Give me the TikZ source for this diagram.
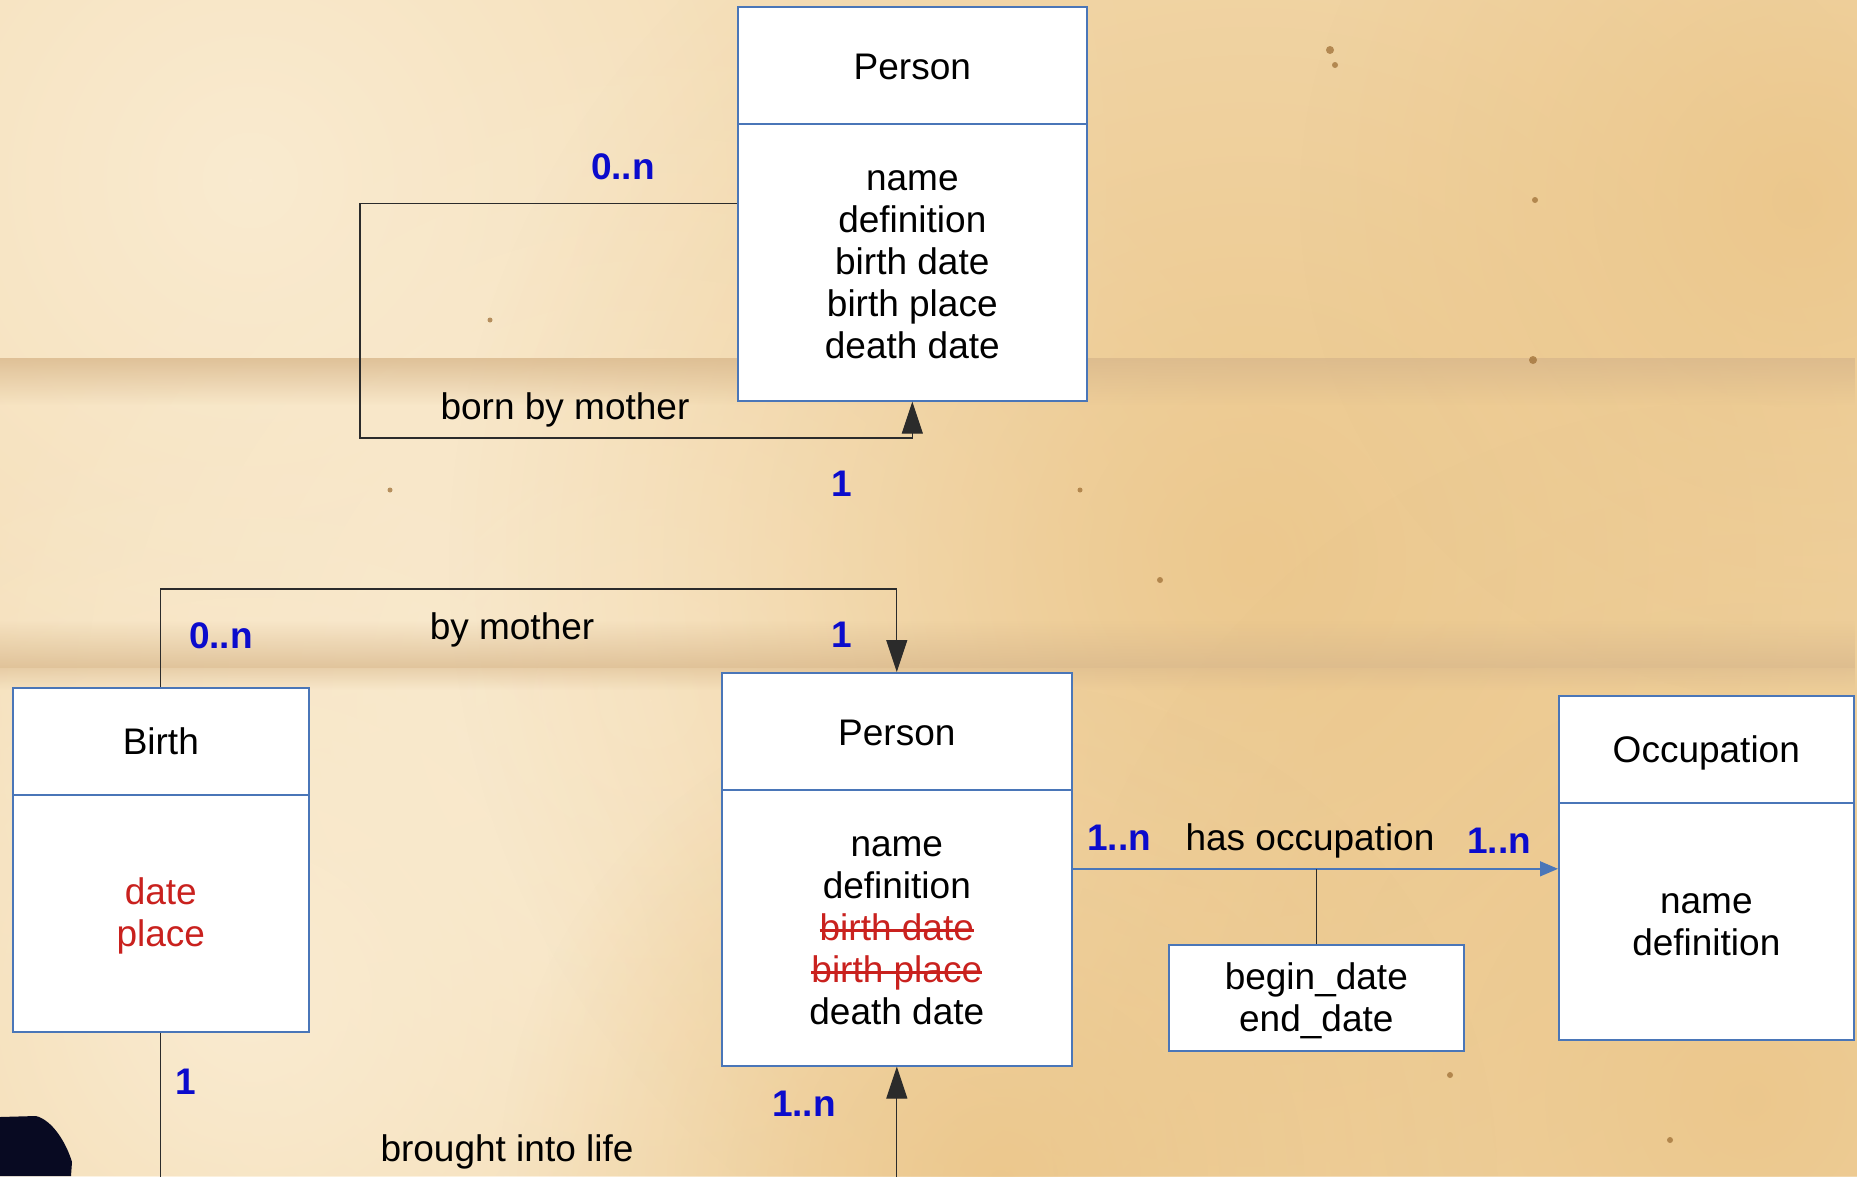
\documentclass[tikz,border=0pt]{standalone}
\usepackage{fontspec}
\setmainfont{Liberation Sans}
\usetikzlibrary{arrows.meta,calc,fadings}
\newsavebox\mystrikebox
\newcommand\mystrike[1]{\sbox\mystrikebox{#1}\rlap{\usebox\mystrikebox}\rule[0.24em]{\wd\mystrikebox}{2.4pt}}
\newcommand\lift[1]{\rule{0pt}{#1}}
\definecolor{paper}{HTML}{F2D8AB}
\definecolor{paperlight}{HTML}{FAEBD0}
\definecolor{paperorange}{HTML}{EBC588}
\definecolor{band}{HTML}{D9B88C}
\definecolor{boxblue}{HTML}{4A76B8}
\definecolor{lblblue}{HTML}{0B0BCC}
\definecolor{attrred}{HTML}{C9211E}
\definecolor{linegray}{HTML}{2B2B2B}
\definecolor{ink}{HTML}{080A22}
\definecolor{speck}{HTML}{9A6A30}
\tikzfading[name=softblob, inner color=transparent!0, outer color=transparent!100]
\tikzfading[name=bandfade, top color=transparent!0, bottom color=transparent!100]
\tikzfading[name=bandfadeup, top color=transparent!100, bottom color=transparent!0]
\begin{document}
\begin{tikzpicture}[x=1pt,y=-1pt,
  every node/.style={font=\fontsize{37}{42}\selectfont, inner sep=0pt},
  cls/.style={draw=boxblue, line width=1.6pt, fill=white, align=center, anchor=north west},
  mult/.style={text=lblblue, font=\fontsize{37}{42}\selectfont\bfseries},
  rel/.style={text=black},
  conn/.style={draw=linegray, line width=1.2pt},
  blk/.style={conn, -{Triangle[length=32pt,width=21pt]}},
  bconn/.style={draw=boxblue, line width=1.4pt, -{Triangle[length=18pt,width=15pt]}},
  dot/.style={fill=speck, opacity=0.7},
  light/.style={fill=paperlight, path fading=softblob},
  warm/.style={fill=paperorange, path fading=softblob, fill opacity=0.85}
]
\useasboundingbox (0,0) rectangle (1857,1176);
% ---------- paper background ----------
\begin{scope}
\clip (0,0) rectangle (1857,1176);
\fill[paper] (0,0) rectangle (1857,1176);
\fill[light] (250,180) circle (900);
\fill[light] (650,700) circle (700);
\fill[light] (250,1000) circle (600);
\fill[warm] (1250,560) circle (800);
\fill[warm] (1750,1100) circle (700);
\fill[warm] (1000,1180) circle (500);
\fill[warm] (1800,200) circle (500);
\fill[band, path fading=bandfade, fill opacity=0.8] (0,358) rectangle (1857,405);
\fill[band, path fading=bandfadeup, fill opacity=0.75] (0,620) rectangle (1857,668);
\fill[band, path fading=bandfade, fill opacity=0.5] (0,668) rectangle (1857,690);
\fill[dot] (1330,50) circle (4);
\fill[dot] (1335,65) circle (3);
\fill[dot] (1535,200) circle (3);
\fill[dot] (1533,360) circle (4);
\fill[dot] (1160,580) circle (3);
\fill[dot] (1670,1140) circle (3);
\fill[dot] (1450,1075) circle (3);
\fill[dot] (490,320) circle (2.5);
\fill[dot] (390,490) circle (2.5);
\fill[dot] (1080,490) circle (2.5);
\fill[dot] (815,720) circle (3);
\end{scope}
% ink blot
\fill[ink] (0,1117) -- (36,1116) .. controls (52,1120) and (66,1142) .. (72,1162) -- (71,1176) -- (0,1176) -- cycle;

% ---------- classes ----------
\node[cls, minimum width=349pt, minimum height=117pt] (p1h) at (737,6) {\lift{28pt}Person};
\node[cls, minimum width=349pt, minimum height=277pt] (p1b) at (737,123)
  {\lift{25pt}name\\definition\\birth date\\birth place\\death date};

\node[cls, minimum width=350pt, minimum height=117pt] (p2h) at (721,672) {\lift{28pt}Person};
\node[cls, minimum width=350pt, minimum height=276pt] (p2b) at (721,789)
  {\lift{26pt}name\\definition\\{\color{attrred}\mystrike{birth date}}\\{\color{attrred}\mystrike{birth place}}\\death date};

\node[cls, minimum width=296pt, minimum height=107pt] (bh) at (12,687) {Birth};
\node[cls, minimum width=296pt, minimum height=237pt, text=attrred] (bb) at (12,794) {\lift{33pt}date\\place};

\node[cls, minimum width=295pt, minimum height=107pt] (oh) at (1558,695) {\lift{34pt}Occupation};
\node[cls, minimum width=295pt, minimum height=237pt] (ob) at (1558,802) {\lift{26pt}name\\definition};

\node[cls, minimum width=295pt, minimum height=106pt] (dates) at (1168,944) {\lift{33pt}begin\_date\\end\_date};

% ---------- connectors ----------
\coordinate (loopcorner) at (360,438);
\draw[blk] ([yshift=58.5pt]p1b.west) -| (loopcorner) -| (p1b.south);

\coordinate (bmtop) at (530,589);
\draw[blk] (bh.north) |- (bmtop) -| (p2h.north);

\coordinate (pagebottom) at (0,1180);
\draw[conn] (bb.south) -- (bb.south |- pagebottom);
\draw[blk] (p2b.south |- pagebottom) -- (p2b.south);

\coordinate (occstart) at ([yshift=59pt]p2b.east);
\coordinate (occend) at (occstart -| ob.west);
\draw[bconn] (occstart) -- (occend);
\coordinate (occjoin) at (occstart -| dates.north);
\draw[conn] (dates.north) -- (occjoin);

% ---------- labels ----------
\node[mult] (m1) at (623,167) {0..n};
\node[rel] (r1) at (565,410) {born by mother};
\node[mult] (m2) at (842,484) {1};

\node[mult] (m3) at (221,636) {0..n};
\node[rel] (r2) at (512,630) {by mother};
\node[mult] (m4) at (842,635) {1};

\node[mult] (m5) at (1119,838) {1..n};
\node[rel] (r3) at (1310,841) {has occupation};
\node[mult] (m6) at (1499,841) {1..n};

\node[mult] (m7) at (186,1082) {1};
\node[mult] (m8) at (804,1104) {1..n};
\node[rel] (r4) at (507,1152) {brought into life};
\end{tikzpicture}
\end{document}
